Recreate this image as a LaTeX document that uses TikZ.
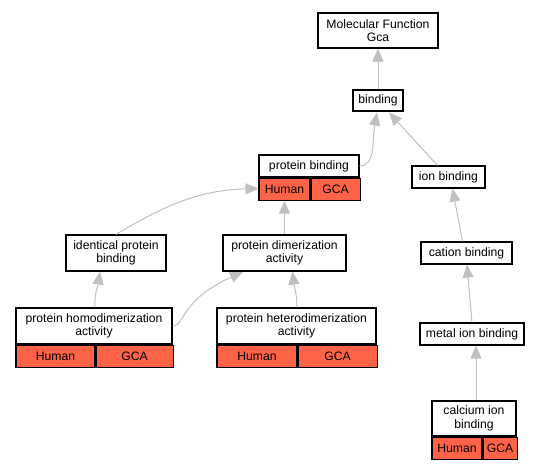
\documentclass[tikz,border=0pt]{standalone}
\usepackage{fontspec}
\setmainfont{Liberation Sans}
\usetikzlibrary{arrows.meta,calc}
\definecolor{edgegray}{RGB}{192,192,192}
\definecolor{tomatofill}{RGB}{255,99,71}
\begin{document}
\begin{tikzpicture}[x=1pt,y=-1pt,
  tbox/.style={draw=black,line width=1.1pt,fill=white,inner sep=1pt,align=center,font=\fontsize{12.2}{13.5}\selectfont},
  cell/.style={draw=black,line width=1.1pt,fill=tomatofill,inner sep=0pt,minimum height=22pt,font=\fontsize{12.2}{13.5}\selectfont,anchor=north west},
  edge/.style={draw=edgegray,line width=1pt,-{Triangle[length=13pt,width=11pt]}}]
\useasboundingbox (0,0) rectangle (544,469);
% nodes
\node[tbox,minimum width=120pt,minimum height=35pt] (mf) at (378,30.5) {Molecular Function\\Gca};
\node[tbox,minimum width=50pt,minimum height=21pt] (bind) at (378,100.5) {binding};
\node[tbox,minimum width=100pt,minimum height=22pt] (pb) at (309,166) {protein binding};
\node[cell,minimum width=51pt] (pbh) at (pb.south west) {Human};
\node[cell,minimum width=49pt] (pbg) at (pbh.north east) {GCA};
\node[tbox,minimum width=73pt,minimum height=22pt] (ion) at (448.5,177) {ion binding};
\node[tbox,minimum width=100pt,minimum height=36pt] (ipb) at (116,253) {identical protein\\binding};
\node[tbox,minimum width=123pt,minimum height=36pt] (pda) at (284.5,253) {protein dimerization\\activity};
\node[tbox,minimum width=91pt,minimum height=22pt] (cat) at (466.5,253) {cation binding};
\node[tbox,minimum width=156pt,minimum height=36pt] (homo) at (94,326) {protein homodimerization\\activity};
\node[cell,minimum width=79pt] (homoh) at (homo.south west) {Human};
\node[cell,minimum width=77pt] (homog) at (homoh.north east) {GCA};
\node[tbox,minimum width=159pt,minimum height=36pt] (hetero) at (296.5,326) {protein heterodimerization\\activity};
\node[cell,minimum width=80pt] (heteroh) at (hetero.south west) {Human};
\node[cell,minimum width=79pt] (heterog) at (heteroh.north east) {GCA};
\node[tbox,minimum width=104pt,minimum height=22pt] (metal) at (472,334) {metal ion binding};
\node[tbox,minimum width=84pt,minimum height=35pt] (calc) at (474,418.5) {calcium ion\\binding};
\node[cell,minimum width=50pt] (calch) at (calc.south west) {Human};
\node[cell,minimum width=34pt] (calcg) at (calch.north east) {GCA};
% edges
\draw[edge] (bind.north) -- (mf.south);
\draw[edge] (pb.east) .. controls (376,166) and (372,140) .. ($(bind.south)+(-1,1)$);
\draw[edge] ($(ion.north)+(-11,0)$) -- ($(bind.south)+(11,1)$);
\draw[edge] (ipb.north) .. controls (165,205) and (200,190) .. ($(pbh.north west)+(0,11)$);
\draw[edge] (pda.north) -- (pda.north |- pbh.south);
\draw[edge] ($(cat.north)+(-4,0)$) -- ($(ion.south)+(4,0)$);
\draw[edge] (metal.north) -- ($(cat.south)+(0.5,0)$);
\draw[edge] ($(calc.north)+(2,0)$) -- ($(metal.south)+(4,0)$);
\draw[edge] ($(homo.north)+(1,0)$) .. controls (94,296) and (98,285) .. ($(ipb.south)+(-16,0)$);
\draw[edge] (homo.east) .. controls (185,326) and (180,300) .. (243,272);
\draw[edge] ($(hetero.north)+(0.5,0)$) .. controls (297,295) and (294,285) .. ($(pda.south)+(8,0)$);
\end{tikzpicture}
\end{document}
